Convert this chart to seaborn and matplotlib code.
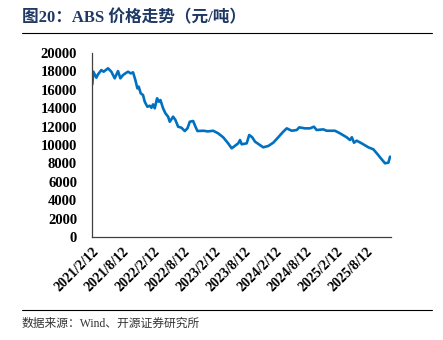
import matplotlib
matplotlib.use("Agg")
import matplotlib.pyplot as plt
import seaborn as sns
import pandas as pd

dates = ["2021-02-12", "2021-02-18", "2021-03-08", "2021-03-18", "2021-04-07", "2021-04-21",
         "2021-05-17", "2021-06-06", "2021-06-26", "2021-07-16", "2021-07-30", "2021-08-15",
         "2021-08-29", "2021-09-14", "2021-09-30", "2021-10-14", "2021-10-28", "2021-11-09",
         "2021-11-17", "2021-11-29", "2021-12-13", "2021-12-23", "2022-01-08", "2022-01-22",
         "2022-02-01", "2022-02-11", "2022-02-21", "2022-03-07", "2022-03-17", "2022-03-27",
         "2022-04-12", "2022-04-26", "2022-05-12", "2022-05-22", "2022-06-11", "2022-06-25",
         "2022-07-11", "2022-07-31", "2022-08-20", "2022-09-05", "2022-09-19", "2022-10-09",
         "2022-10-23", "2022-11-04", "2022-12-10", "2023-01-05", "2023-02-06", "2023-03-08",
         "2023-04-07", "2023-05-07", "2023-05-28", "2023-07-06", "2023-07-17", "2023-07-27",
         "2023-08-26", "2023-09-10", "2023-09-28", "2023-10-15", "2023-12-03", "2024-01-02",
         "2024-02-01", "2024-03-02", "2024-04-01", "2024-04-22", "2024-05-22", "2024-06-21",
         "2024-07-06", "2024-08-09", "2024-09-08", "2024-10-02", "2024-10-18", "2024-11-27",
         "2024-12-17", "2025-02-05", "2025-03-07", "2025-04-16", "2025-05-06", "2025-05-17",
         "2025-05-30", "2025-06-15", "2025-07-15", "2025-08-24", "2025-09-23", "2025-10-17",
         "2025-11-12", "2025-12-02", "2025-12-22", "2026-01-01"]
prices = [16600, 17970, 17320, 17680, 18150, 17970,
          18340, 17970, 17250, 18040, 17250, 17610,
          17790, 17970, 17790, 17900, 17060, 16160,
          16340, 15620, 15430, 14710, 14160, 14270,
          14050, 14420, 13990, 15080, 14710, 14890,
          13990, 13450, 13080, 12530, 13080, 12720,
          11990, 11880, 11520, 11810, 12530, 12610,
          11990, 11520, 11550, 11480, 11550, 11270,
          10840, 10180, 9640, 10180, 10540, 10080,
          10180, 11090, 10840, 10360, 9750, 9890,
          10250, 10840, 11450, 11810, 11550, 11630,
          11920, 11810, 11810, 11990, 11630, 11700,
          11550, 11550, 11270, 10840, 10540, 10840,
          10250, 10470, 10180, 9750, 9530, 9020,
          8440, 8010, 8080, 8730]

tick_dates = ["2021-02-12", "2021-08-12", "2022-02-12", "2022-08-12", "2023-02-12",
              "2023-08-12", "2024-02-12", "2024-08-12", "2025-02-12", "2025-08-12"]
tick_labels = ["2021/2/12", "2021/8/12", "2022/2/12", "2022/8/12", "2023/2/12",
               "2023/8/12", "2024/2/12", "2024/8/12", "2025/2/12", "2025/8/12"]
y_ticks = [0, 2000, 4000, 6000, 8000, 10000, 12000, 14000, 16000, 18000, 20000]

title = "图20：ABS 价格走势（元/吨）"
source = "数据来源：Wind、开源证券研究所"

sns.set_style("white")
plt.rcParams["font.family"] = ["Liberation Serif", "Noto Sans CJK SC", "DejaVu Sans"]

df = pd.DataFrame({"date": pd.to_datetime(dates), "price": prices})

fig = plt.figure(figsize=(4.43, 3.40), dpi=100)
ax = fig.add_axes([0.2084, 0.303, 0.882 - 0.2084, 0.844 - 0.303])
sns.lineplot(data=df, x="date", y="price", ax=ax, color="#0070C0", linewidth=1.9)

ax.set_xlim(pd.Timestamp(dates[0]), pd.Timestamp(dates[-1]) + pd.Timedelta(days=4))
ax.set_ylim(0, 20000)
ax.set_yticks(y_ticks)
ax.set_yticklabels([str(v) for v in y_ticks], fontsize=10.5, fontweight="bold",
                   family=["Liberation Serif"])
ax.set_xticks(pd.to_datetime(tick_dates))
ax.set_xticklabels(tick_labels, rotation=45, ha="right", rotation_mode="anchor",
                   fontsize=10, fontweight="bold", family=["Liberation Serif"])
ax.set_xlabel("")
ax.set_ylabel("")
for s in ["top", "right"]:
    ax.spines[s].set_visible(False)
for s in ["left", "bottom"]:
    ax.spines[s].set_color("#404040")
    ax.spines[s].set_linewidth(0.9)
ax.tick_params(axis="both", direction="in", length=4, width=0.9, color="#404040",
               labelcolor="black")
ax.tick_params(axis="y", pad=11)
ax.tick_params(axis="x", pad=6)
ax.grid(False)

fig.text(22 / 443, 1 - 18 / 340, title, fontsize=12, fontweight="bold", color="#1F3864",
         va="center", ha="left", family=["Liberation Serif", "Noto Sans CJK SC"])
fig.add_artist(plt.Line2D([22 / 443, 432 / 443], [1 - 33 / 340, 1 - 33 / 340],
                          color="black", linewidth=0.8))
fig.add_artist(plt.Line2D([22 / 443, 432 / 443], [1 - 310 / 340, 1 - 310 / 340],
                          color="black", linewidth=0.8))
fig.text(22 / 443, 1 - 324 / 340, source, fontsize=8.5, color="#333333",
         va="center", ha="left", family=["Liberation Serif", "Noto Sans CJK SC"])

fig.savefig("out.png", dpi=100)
